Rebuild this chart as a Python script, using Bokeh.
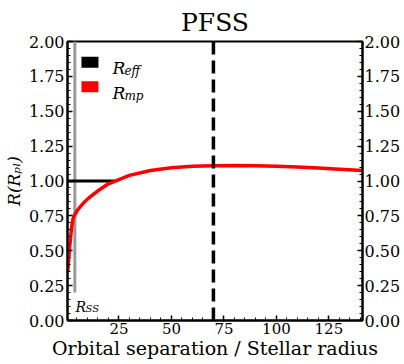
from bokeh.plotting import figure
from bokeh.models import (LinearAxis, SingleIntervalTicker, NumeralTickFormatter,
                          Label, Range1d)
from bokeh.embed import file_html
from bokeh.resources import INLINE

# ---- data ----
sep_mp = [0.6, 1.0, 1.5, 2.0, 2.5, 3.0, 3.5, 4.0, 5.0, 6.0, 8.0, 10.0, 12.5, 15.0,
          20.0, 25.0, 30.0, 40.0, 50.0, 60.0, 70.0, 80.0, 90.0, 100.0, 110.0,
          120.0, 130.0, 141.0]
r_mp = [0.35, 0.42, 0.52, 0.60, 0.67, 0.72, 0.745, 0.76, 0.785, 0.805, 0.84, 0.87,
        0.90, 0.93, 0.98, 1.01, 1.04, 1.075, 1.095, 1.105, 1.11, 1.112, 1.11,
        1.105, 1.10, 1.093, 1.085, 1.075]
sep_eff = [0.5, 23.0]
r_eff = [1.0, 1.0]
r_ss = 4.0           # source-surface radius (gray line)
r_ss_ylim = [0.2, 2.0]
orbit = 70.0         # planet orbit (dashed line)
x_lim = (0.5, 141.0)
y_lim = (0.0, 2.0)

SERIF = "DejaVu Serif"

p = figure(width=404, height=364, x_range=Range1d(*x_lim), y_range=Range1d(*y_lim),
           output_backend="svg", toolbar_location=None, title="PFSS",
           min_border_left=66, min_border_right=42, min_border_top=37,
           min_border_bottom=44)
p.title.align = "center"
p.title.text_font = SERIF
p.title.text_font_size = "25px"
p.title.text_font_style = "normal"
p.title.text_color = "black"
p.title.standoff = 10
p.grid.visible = False
p.background_fill_color = "white"
p.border_fill_color = "white"
p.outline_line_color = "black"
p.outline_line_width = 2

def style_axis(ax, size):
    ax.axis_line_width = 2
    ax.axis_line_color = "black"
    ax.major_tick_in = 5
    ax.major_tick_out = 0
    ax.minor_tick_in = 3
    ax.minor_tick_out = 0
    ax.major_tick_line_width = 1.5
    ax.minor_tick_line_width = 1
    ax.major_label_text_font = SERIF
    ax.major_label_text_font_size = size
    ax.major_label_text_color = "black"
    ax.axis_label_text_color = "black"

xax = p.xaxis[0]
xax.ticker = SingleIntervalTicker(interval=25, num_minor_ticks=5)
style_axis(xax, "15px")
xax.major_label_standoff = 2
xax.axis_label = "Orbital separation / Stellar radius"
xax.axis_label_text_font = SERIF
xax.axis_label_text_font_size = "19px"
xax.axis_label_text_font_style = "normal"
xax.axis_label_standoff = 0

yax = p.yaxis[0]
yax.ticker = SingleIntervalTicker(interval=0.25, num_minor_ticks=5)
yax.formatter = NumeralTickFormatter(format="0.00")
style_axis(yax, "16px")
yax.major_label_standoff = 3
yax.axis_label = "R(R\u209a\u2097)"
yax.axis_label_text_font = SERIF
yax.axis_label_text_font_size = "17px"
yax.axis_label_text_font_style = "italic"
yax.axis_label_standoff = 2

rax = LinearAxis(ticker=SingleIntervalTicker(interval=0.25, num_minor_ticks=5),
                 formatter=NumeralTickFormatter(format="0.00"))
style_axis(rax, "16px")
rax.major_label_standoff = 2
p.add_layout(rax, "right")

# ---- lines ----
p.line([r_ss, r_ss], r_ss_ylim, line_color="#9a9a9a", line_width=3)
p.line(sep_eff, r_eff, line_color="black", line_width=3)
p.line(sep_mp, r_mp, line_color="red", line_width=3.5)
p.line([orbit, orbit], list(y_lim), line_color="black", line_width=3.5,
       line_dash="13 6")

# ---- legend (custom, for subscripts) ----
p.rect(x=[11.2, 11.2], y=[1.852, 1.675], width=17, height=11,
       width_units="screen", height_units="screen",
       fill_color=["black", "red"], line_color=None)

def add_text(x, y, txt, size, dx=0, dy=0):
    p.add_layout(Label(x=x, y=y, text=txt, text_font=SERIF,
                       text_font_style="italic", text_color="black",
                       text_font_size=size, text_baseline="alphabetic",
                       text_align="left", x_offset=dx, y_offset=dy))

add_text(21.9, 1.809, "R", "17px")
add_text(21.9, 1.809, "eff", "12px", dx=12, dy=-3)
add_text(21.9, 1.633, "R", "17px")
add_text(21.9, 1.633, "mp", "12px", dx=12, dy=-3)
add_text(4.3, 0.099, "R", "14px")
add_text(4.3, 0.099, "SS", "10px", dx=10, dy=-2)

open("out.html", "w").write(file_html(p, INLINE))
